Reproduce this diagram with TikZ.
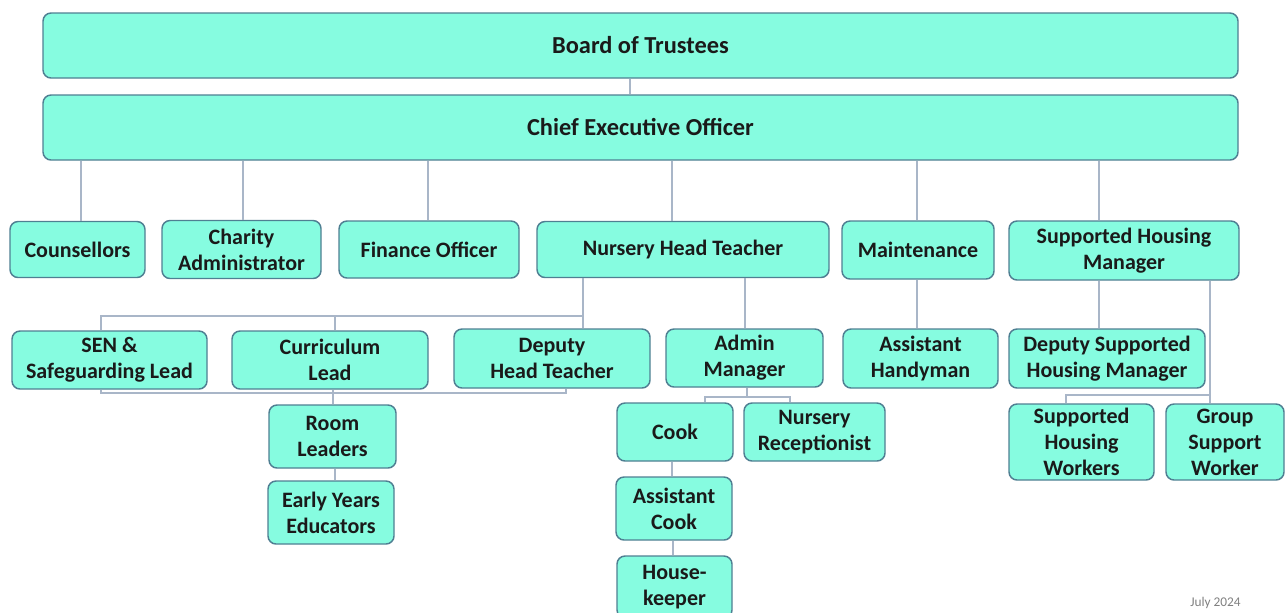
\documentclass[tikz,border=0pt]{standalone}
\usepackage{fontspec}
\setmainfont{Carlito}
\usetikzlibrary{calc}
\definecolor{boxfill}{HTML}{86FCE0}
\definecolor{boxdraw}{HTML}{4F7F92}
\definecolor{linecol}{HTML}{A9B6C8}
\definecolor{txt}{HTML}{1A1A1A}
\begin{document}
\begin{tikzpicture}[x=0.75pt,y=-0.75pt,
 box/.style={draw=boxdraw, fill=boxfill, line width=1.1pt, rounded corners=6pt,
   font=\bfseries\fontsize{16.5}{19.5}\selectfont, text=txt, align=center, inner sep=0pt},
 big/.style={font=\bfseries\fontsize{18.3}{21}\selectfont},
 sz/.style 2 args={minimum width=#1*0.75pt, minimum height=#2*0.75pt},
 conn/.style={draw=linecol, line width=1.1pt}]
\useasboundingbox (0,0) rectangle (1285,612);
% helper coordinates
\coordinate (xb) at (630,0);
\coordinate (x1) at (81,0);
\coordinate (x2) at (243,0);
\coordinate (x3) at (428,0);
\coordinate (x4) at (672,0);
\coordinate (x5) at (917,0);
\coordinate (x6) at (1099,0);
\coordinate (xs) at (101,0);
\coordinate (xcu) at (335,0);
\coordinate (xd) at (583,0);
\coordinate (xr) at (333,0);
\coordinate (xdb) at (566,0);
\coordinate (xre) at (335,0);
\coordinate (xa) at (745,0);
\coordinate (xam) at (747,0);
\coordinate (xk) at (705,0);
\coordinate (xn) at (790,0);
\coordinate (xc) at (672,0);
\coordinate (xh) at (673,0);
\coordinate (xg) at (1210,0);
\coordinate (xw) at (1066,0);
\coordinate (bus1) at (0,316);
\coordinate (bus2) at (0,393);
\coordinate (bus3) at (0,397);
\coordinate (bus4) at (0,395);
% nodes
\node[box, big, sz={1195}{65}] (board) at (640.5,45.5) {Board of Trustees};
\node[box, big, sz={1195}{65}] (ceo) at (640.5,127.5) {Chief Executive Officer};
\node[box, sz={135}{56}] (couns) at (77.5,249.5) {Counsellors};
\node[box, sz={159}{58}] (charity) at (241.5,249.5) {Charity\\Administrator};
\node[box, sz={180}{57}] (fin) at (429,249.5) {Finance Officer};
\node[box, sz={292}{56}] (nht) at (683,249.5) {Nursery Head Teacher};
\node[box, sz={152}{58}] (maint) at (918,250) {Maintenance};
\node[box, sz={230}{59}] (shm) at (1124,250.5) {Supported Housing\\Manager};
\node[box, sz={195}{58}] (sen) at (109.5,360) {SEN \&\\Safeguarding Lead};
\node[box, sz={196}{58}] (curr) at (330,360) {Curriculum\\Lead};
\node[box, sz={196}{59}] (dht) at (552,358.5) {Deputy\\Head Teacher};
\node[box, sz={157}{58}] (adm) at (744.5,358) {Admin\\Manager};
\node[box, sz={155}{59}] (ah) at (920.5,358.5) {Assistant\\Handyman};
\node[box, sz={196}{59}] (dshm) at (1107,358.5) {Deputy Supported\\Housing Manager};
\node[box, sz={127}{63}] (room) at (332.5,436.5) {Room\\Leaders};
\node[box, sz={126}{63}] (eye) at (331,512.5) {Early Years\\Educators};
\node[box, sz={116}{58}] (cook) at (675,432) {Cook};
\node[box, sz={141}{58}] (nr) at (814.5,432) {Nursery\\Receptionist};
\node[box, sz={116}{63}] (acook) at (674,508.5) {Assistant\\Cook};
\node[box, sz={115}{62}] (hk) at (674.5,587) {House-\\keeper};
\node[box, sz={145}{76}] (shw) at (1081.5,442) {Supported\\Housing\\Workers};
\node[box, sz={118}{76}] (gsw) at (1225,442) {Group\\Support\\Worker};
\node[anchor=north west, inner sep=0pt, font=\fontsize{10}{12}\selectfont, text=gray] (date) at (1190,597) {July 2024};
% connectors
\draw[conn] (board.south -| xb) -- (ceo.north -| xb);
\draw[conn] (ceo.south -| x1) -- (couns.north -| x1);
\draw[conn] (ceo.south -| x2) -- (charity.north -| x2);
\draw[conn] (ceo.south -| x3) -- (fin.north -| x3);
\draw[conn] (ceo.south -| x4) -- (nht.north -| x4);
\draw[conn] (ceo.south -| x5) -- (maint.north -| x5);
\draw[conn] (ceo.south -| x6) -- (shm.north -| x6);
% nursery head teacher branch
\draw[conn] (nht.south -| xd) -- (xd |- bus1) -- (xs |- bus1) -- (sen.north -| xs);
\draw[conn] (xd |- bus1) -- (dht.north -| xd);
\draw[conn] (xcu |- bus1) -- (curr.north -| xcu);
\draw[conn] (sen.south -| xs) -- (xs |- bus2) -- (xdb |- bus2) -- (dht.south -| xdb);
\draw[conn] (curr.south -| xr) -- (room.north -| xr);
\draw[conn] (room.south -| xre) -- (eye.north -| xre);
\draw[conn] (nht.south -| xa) -- (adm.north -| xa);
\draw[conn] (adm.south -| xam) -- (xam |- bus3);
\draw[conn] (cook.north -| xk) -- (xk |- bus3) -- (xn |- bus3) -- (nr.north -| xn);
\draw[conn] (cook.south -| xc) -- (acook.north -| xc);
\draw[conn] (acook.south -| xh) -- (hk.north -| xh);
% maintenance & housing
\draw[conn] (maint.south -| x5) -- (ah.north -| x5);
\draw[conn] (shm.south -| x6) -- (dshm.north -| x6);
\draw[conn] (shm.south -| xg) -- (xg |- bus4) -- (xw |- bus4) -- (shw.north -| xw);
\draw[conn] (xg |- bus4) -- (gsw.north -| xg);
\end{tikzpicture}
\end{document}
